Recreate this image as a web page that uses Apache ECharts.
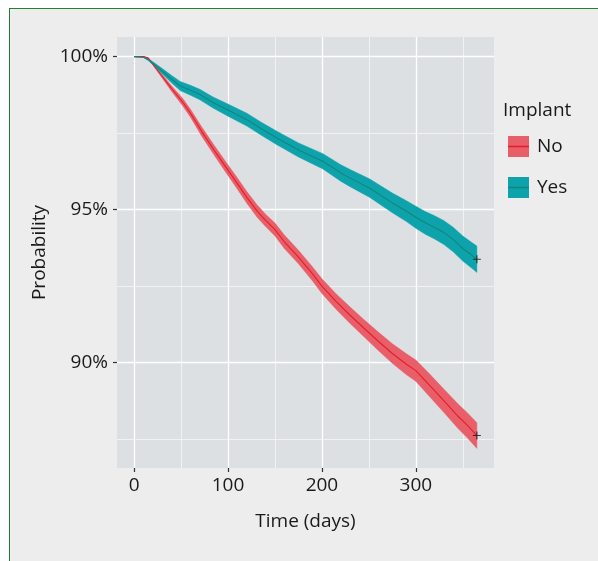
<!DOCTYPE html>
<html><head><meta charset="utf-8">
<script src="https://cdn.jsdelivr.net/npm/echarts@6/dist/echarts.min.js"></script>
<style>
html,body{margin:0;padding:0;background:#fff;}
#frame{position:absolute;left:9px;top:8px;right:0;bottom:0;background:#ededed;border-left:1.5px solid #2a7d30;border-top:1.5px solid #2a7d30;}
#chart{position:absolute;left:0;top:0;width:598px;height:561px;}
</style></head><body>
<div id="frame"></div>
<div id="chart"></div>
<script>
// ---- data ----
var timesNo = [0,10,15,20,30,40,52,60,72,85,97,110,120,131,140,150,160,175,190,200,215,230,244,260,275,290,300,315,330,345,355,365];
var survNo  = [100,100,99.95,99.75,99.35,98.95,98.5,98.15,97.55,96.95,96.42,95.85,95.4,94.95,94.65,94.35,93.95,93.45,92.9,92.5,92.0,91.55,91.15,90.7,90.3,89.95,89.74,89.25,88.75,88.25,87.95,87.62];
var lowerNo = [100,100,99.94,99.72,99.29,98.86,98.38,98.02,97.40,96.79,96.25,95.67,95.21,94.75,94.45,94.14,93.73,93.23,92.67,92.26,91.75,91.28,90.87,90.40,89.98,89.61,89.39,88.88,88.37,87.85,87.54,87.20];
var upperNo = [100,100,99.96,99.78,99.41,99.04,98.62,98.28,97.70,97.11,96.59,96.03,95.59,95.15,94.85,94.56,94.17,93.67,93.13,92.74,92.25,91.82,91.43,91.00,90.62,90.29,90.09,89.62,89.13,88.65,88.36,88.04];

var timesYes = [0,10,15,20,30,40,49,60,70,84,102,120,135,152,175,201,220,230,251,262,275,290,300,310,320,330,340,350,360,365];
var survYes  = [100,99.98,99.9,99.78,99.52,99.26,99.04,98.9,98.76,98.5,98.22,97.94,97.65,97.34,96.95,96.58,96.2,96.03,95.7,95.48,95.22,94.95,94.75,94.57,94.42,94.25,94.02,93.73,93.5,93.38];
var lowerYes = [100,99.97,99.87,99.73,99.43,99.14,98.89,98.74,98.59,98.32,98.02,97.73,97.44,97.12,96.72,96.33,95.93,95.75,95.40,95.17,94.90,94.61,94.39,94.20,94.04,93.86,93.62,93.32,93.08,92.95];
var upperYes = [100,99.99,99.93,99.83,99.61,99.38,99.19,99.06,98.93,98.68,98.42,98.15,97.86,97.56,97.18,96.83,96.47,96.31,96.00,95.79,95.54,95.29,95.11,94.94,94.80,94.64,94.42,94.14,93.92,93.81];

var xTicks = [0,100,200,300];
var xMinor = [50,150,250,350];
var yTicks = [90,95,100];
var yMinor = [87.5,92.5,97.5];
var groupNames = ['No','Yes'];
var legendTitle = 'Implant';

// ---- styles ----
var FONT = '"Open Sans", "Noto Sans", sans-serif';
var bandColor = {No:'#e85f69', Yes:'#0ea3aa'};
var lineColor = {No:'#e41e28', Yes:'#13857f'};

function zip(a, b){ var r=[]; for (var i=0;i<a.length;i++) r.push([a[i], b[i]]); return r; }

function bandSeries(name, times, lower, upper, color){
  return {
    type:'custom', name: name + ' CI', z:2, silent:true, clip:true,
    data:[[times[0], lower[0]]], encode:{x:0, y:1},
    renderItem:function(params, api){
      var pts=[];
      for (var i=0;i<times.length;i++) pts.push(api.coord([times[i], upper[i]]));
      for (var j=times.length-1;j>=0;j--) pts.push(api.coord([times[j], lower[j]]));
      return {type:'polygon', shape:{points:pts}, style:{fill:color, stroke:color, lineWidth:0.5}};
    }
  };
}

var gridLines = [];
xTicks.forEach(function(v){ gridLines.push({xAxis:v, lineStyle:{type:'solid', width:1.3, color:'#ffffff'}}); });
xMinor.forEach(function(v){ gridLines.push({xAxis:v, lineStyle:{type:'solid', width:0.8, color:'#f6f7f8'}}); });
yTicks.forEach(function(v){ gridLines.push({yAxis:v, lineStyle:{type:'solid', width:1.3, color:'#ffffff'}}); });
yMinor.forEach(function(v){ gridLines.push({yAxis:v, lineStyle:{type:'solid', width:0.8, color:'#f6f7f8'}}); });

var plus = 'path://M-0.7,-5H0.7V-0.7H5V0.7H0.7V5H-0.7V0.7H-5V-0.7H-0.7Z';

var chart = echarts.init(document.getElementById('chart'), null, {renderer:'canvas'});
chart.setOption({
  backgroundColor:'transparent',
  animation:false,
  textStyle:{fontFamily:FONT},
  grid:{left:117, top:37, width:377, height:431, show:true, backgroundColor:'#dde0e3', borderWidth:0, containLabel:false},
  title:{text:legendTitle, left:503, top:101, padding:0, textStyle:{fontFamily:FONT, fontSize:19, fontWeight:'normal', color:'#1a1a1a'}},
  legend:{
    orient:'vertical', left:508, top:136, padding:0, itemWidth:21, itemHeight:21, itemGap:20,
    selectedMode:false,
    textStyle:{fontFamily:FONT, fontSize:19, color:'#1a1a1a', padding:[0,0,0,3]},
    data: groupNames.map(function(n){ return {name:n, icon:'rect', itemStyle:{color:bandColor[n], borderWidth:0}, lineStyle:{width:0, opacity:0}}; })
  },
  graphic:[
    {type:'line', shape:{x1:508, y1:146.5, x2:529, y2:146.5}, style:{stroke:lineColor.No, lineWidth:1.5}, z:100},
    {type:'line', shape:{x1:508, y1:187.5, x2:529, y2:187.5}, style:{stroke:lineColor.Yes, lineWidth:1.5}, z:100}
  ],
  xAxis:{
    type:'value', min:-18.25, max:383.25,
    name:'Time (days)', nameLocation:'middle', nameGap:44,
    nameTextStyle:{fontFamily:FONT, fontSize:19, color:'#1a1a1a'},
    axisLine:{show:false, onZero:false},
    axisTick:{show:true, length:4, customValues:xTicks, lineStyle:{color:'#333', width:1.2}},
    axisLabel:{show:true, margin:8, customValues:xTicks, fontFamily:FONT, fontSize:19, color:'#1a1a1a'},
    splitLine:{show:false}
  },
  yAxis:{
    type:'value', min:86.56, max:100.64,
    name:'Probability', nameLocation:'middle', nameGap:63, nameRotate:90,
    nameTextStyle:{fontFamily:FONT, fontSize:19, color:'#1a1a1a'},
    axisLine:{show:false, onZero:false},
    axisTick:{show:true, length:4, customValues:yTicks, lineStyle:{color:'#333', width:1.2}},
    axisLabel:{show:true, margin:9, customValues:yTicks, fontFamily:FONT, fontSize:19, color:'#1a1a1a',
      formatter:function(v){ return Math.round(v) + '%'; }},
    splitLine:{show:false}
  },
  series:[
    {type:'line', name:'grid', data:[], silent:true, z:1,
      markLine:{silent:true, symbol:'none', z:1, label:{show:false}, emphasis:{disabled:true}, animation:false, data:gridLines}},
    bandSeries('No', timesNo, lowerNo, upperNo, bandColor.No),
    bandSeries('Yes', timesYes, lowerYes, upperYes, bandColor.Yes),
    {type:'line', name:'No', data:zip(timesNo, survNo), showSymbol:false, symbol:'none', z:3, silent:true,
      lineStyle:{color:lineColor.No, width:1.1}, itemStyle:{color:bandColor.No}},
    {type:'line', name:'Yes', data:zip(timesYes, survYes), showSymbol:false, symbol:'none', z:3, silent:true,
      lineStyle:{color:lineColor.Yes, width:1.1}, itemStyle:{color:bandColor.Yes}},
    {type:'scatter', name:'censor', silent:true, z:4, symbol:plus, symbolSize:8,
      itemStyle:{color:'#111'},
      data:[[timesNo[timesNo.length-1], survNo[survNo.length-1]], [timesYes[timesYes.length-1], survYes[survYes.length-1]]]}
  ]
});
</script>
</body></html>
